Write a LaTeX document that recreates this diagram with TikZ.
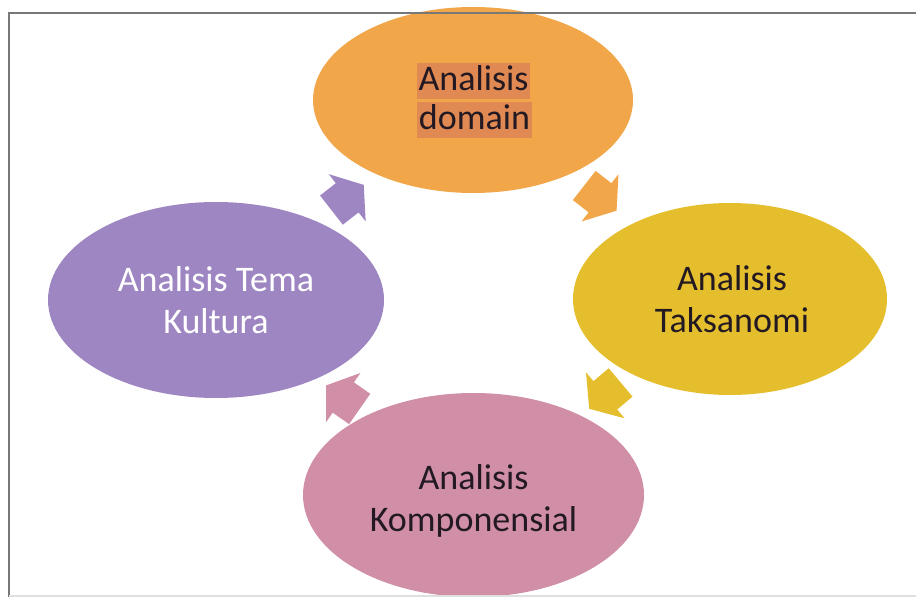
\documentclass[tikz,border=0pt]{standalone}
\usepackage{fontspec}
\setmainfont{Carlito}
\usetikzlibrary{shapes.geometric}
\definecolor{cOrange}{RGB}{242,166,74}
\definecolor{cYellow}{RGB}{229,190,45}
\definecolor{cPink}{RGB}{208,143,166}
\definecolor{cPurple}{RGB}{158,134,194}
\definecolor{cHl}{RGB}{224,137,82}
\definecolor{cFrame}{RGB}{120,120,120}
\definecolor{cDark}{RGB}{35,25,35}
\begin{document}
\begin{tikzpicture}[x=0.75pt,y=0.75pt,
  bubble/.style={ellipse, inner sep=0pt, draw=none},
  lbl/.style={align=center, inner sep=0pt, font=\fontsize{27}{31}\selectfont, text=cDark},
  hl/.style={fill=cHl, inner xsep=1.2pt, inner ysep=0pt, text height=20.5pt,
    text depth=6.5pt, font=\fontsize{27}{30}\selectfont, text=cDark},
  pics/cyc/.style={code={\fill[#1] (-20,18.5) -- (0,18.5) -- (0,30) -- (21,0)
    -- (0,-30) -- (0,-18.5) -- (-20,-18.5) -- cycle;}}
]
\useasboundingbox (0,0) rectangle (916,597);
% ellipses
\node[bubble, fill=cOrange, minimum width=240pt, minimum height=139.5pt] (dom) at (473,497) {};
\node[bubble, fill=cYellow, minimum width=235.5pt, minimum height=144pt] (tak) at (730,298) {};
\node[bubble, fill=cPink, minimum width=255.75pt, minimum height=153pt] (kom) at (473.5,102) {};
\node[bubble, fill=cPurple, minimum width=252pt, minimum height=147pt] (tem) at (216,297) {};
% texts
\node[lbl] (takT) at ([xshift=1.5pt]tak.center) {Analisis\\Taksanomi};
\node[lbl] (komT) at ([yshift=-4.5pt]kom.center) {Analisis\\Komponensial};
\node[lbl, text=white] (temT) at (tem.center) {Analisis Tema\\Kultura};
\node[hl] (domA) at (473.5,516) {Analisis};
\node[hl] (domB) at (474.5,476.5) {domain};
% cycle arrows
\pic[rotate=-38] (arOrange) at (600,399.2) {cyc=cOrange};
\pic[rotate=-140] (arYellow) at (605.3,201.7) {cyc=cYellow};
\pic[rotate=145] (arPink) at (343.3,199.5) {cyc=cPink};
\pic[rotate=38] (arPurple) at (347.2,399.2) {cyc=cPurple};
% frame
\draw[cFrame, line width=2.2pt] (9,0) -- (9,584) -- (916,584);
\draw[gray!25, line width=1pt] (9,1) -- (916,1);
\end{tikzpicture}
\end{document}
